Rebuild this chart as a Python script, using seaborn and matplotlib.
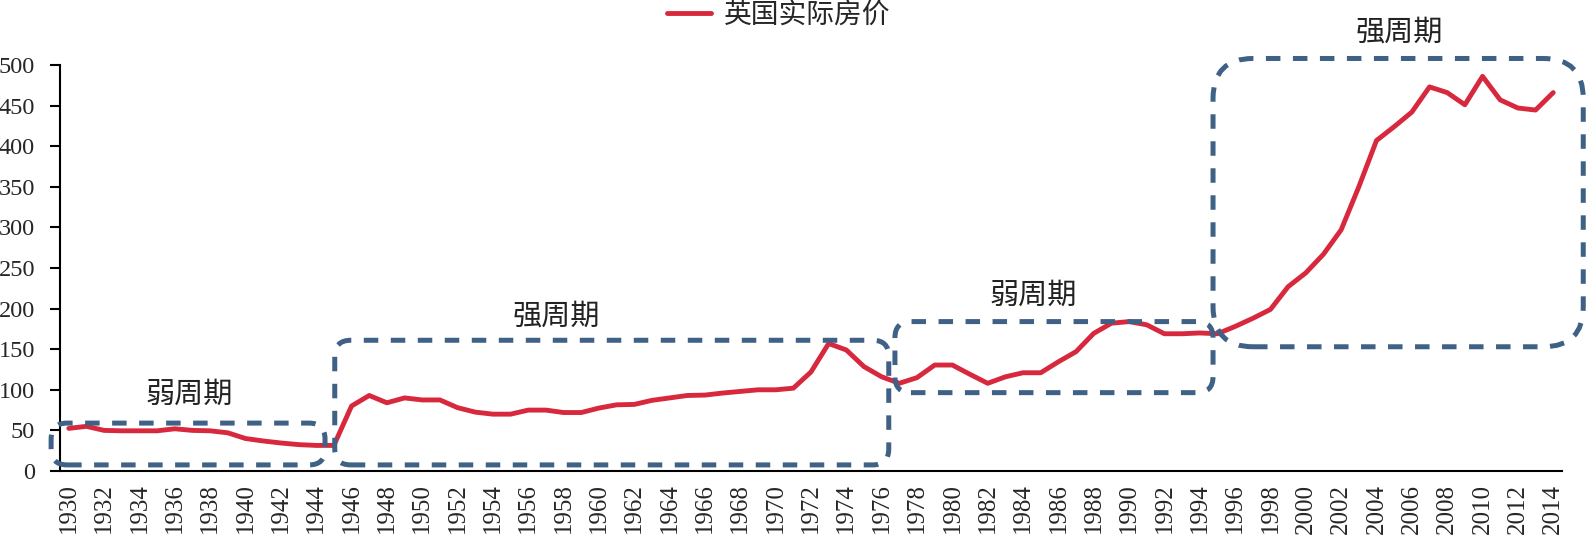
import numpy as np
import pandas as pd
import seaborn as sns
import matplotlib.pyplot as plt
from matplotlib.patches import FancyBboxPatch

# data
years = list(range(1930, 2015))
price = [52.5, 55, 50, 49.5, 49.5, 49.5, 52, 50, 49.5, 47,
         40, 37, 34.5, 32.5, 31.5, 31.5, 80, 93, 84, 90,
         87.5, 87.5, 78, 72.5, 70, 70, 75, 75, 72, 72,
         77.5, 81.5, 82, 87, 90, 93, 93.5, 96, 98, 100,
         100, 102, 122, 157, 149, 128.5, 116, 108, 115, 130.5,
         130.5, 119, 108, 116, 121, 121, 134.5, 147, 169.5, 182,
         184, 180, 169, 169, 170, 169, 178, 188, 199, 227,
         244, 267, 297, 350, 407, 424, 442, 473, 466, 451,
         486, 457, 447, 444.5, 466]
series_name = "英国实际房价"
tick_years = years[::2]
tick_labels = [str(y) for y in tick_years]
y_ticks = list(range(0, 501, 50))

# cycle boxes (data units)
cycle_names = ["弱周期", "强周期", "弱周期", "强周期"]
cycle_start = [1929.0, 1945.05, 1976.75, 1994.75]
cycle_end = [1944.5, 1976.4, 1994.75, 2015.7]
cycle_low = [7.5, 7.5, 96.5, 153]
cycle_high = [59, 161, 184, 508]
cycle_text_x = [1936.8, 1957.6, 1984.6, 2005.3]
cycle_text_y = [93, 190, 215, 539]

sns.set_style("white")
plt.rcParams["font.family"] = ["Liberation Serif", "Noto Sans CJK SC"]

red = "#d7283e"
blue = "#3f6186"

df = pd.DataFrame({"year": years, "price": price})

fig = plt.figure(figsize=(15.86, 5.37), dpi=100)
ax = fig.add_axes([0.0378, 0.1229, 0.9471, 0.7561])
sns.lineplot(data=df, x="year", y="price", ax=ax, color=red,
             linewidth=3.5, label=series_name, legend=False)
ax.set_xlim(1929.5, 2014.5)
ax.set_ylim(0, 500)
ax.set_xlabel("")
ax.set_ylabel("")

for side in ["top", "right"]:
    ax.spines[side].set_visible(False)
for side in ["left", "bottom"]:
    ax.spines[side].set_color("black")
    ax.spines[side].set_linewidth(1.5)

ax.set_yticks(y_ticks)
ax.set_xticks(np.arange(1929.5, 2014, 2))
ax.set_xticklabels([])
ax.set_xticks(tick_years, minor=True)
ax.set_xticklabels(tick_labels, minor=True)
ax.tick_params(axis="x", which="major", direction="in", length=6, width=1.5, color="black")
ax.tick_params(axis="x", which="minor", length=0, pad=9, labelsize=18, labelrotation=90)
ax.tick_params(axis="y", direction="out", length=7, width=1.5, pad=11, labelsize=17.5,
               color="black", left=True)

# rounded dashed boxes, corner radius given in pixels
box_radius_px = [16, 16, 16, 40]
bb = ax.get_window_extent()
px_x = bb.width / (2014.5 - 1929.5)
px_y = bb.height / 500
for s, e, lo, hi, r in zip(cycle_start, cycle_end, cycle_low, cycle_high, box_radius_px):
    box = FancyBboxPatch((s, lo), e - s, hi - lo,
                         boxstyle=f"round,pad=0,rounding_size={r / px_x}",
                         mutation_aspect=px_x / px_y,
                         fill=False, edgecolor=blue, linewidth=3.6,
                         linestyle=(0, (2.9, 2.5)), clip_on=False, zorder=5)
    ax.add_patch(box)

for name, tx, ty in zip(cycle_names, cycle_text_x, cycle_text_y):
    ax.text(tx, ty, name, ha="center", va="center", fontsize=21,
            color="#222222", clip_on=False)

ax.legend(loc="center", bbox_to_anchor=(0.491, 0.97), bbox_transform=fig.transFigure,
          frameon=False, fontsize=20, handlelength=1.6, handletextpad=0.45)

fig.savefig("out.png", dpi=100)
